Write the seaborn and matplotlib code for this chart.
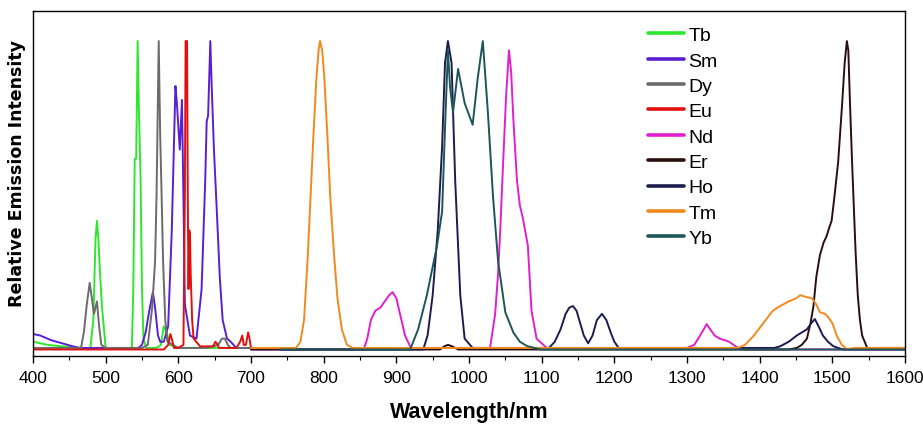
import pandas as pd
import matplotlib.pyplot as plt
from matplotlib.ticker import MultipleLocator
import seaborn as sns

# ---- emission spectra (wavelength nm, relative intensity) ----
tb_nm = [400, 420, 440, 465, 479, 483, 486, 488, 490, 492, 495, 500, 520, 536, 538, 540, 542, 544, 546, 548,
         550, 552, 556, 570, 576, 580, 584, 588, 600, 650, 700]
tb_int = [0.03, 0.02, 0.015, 0.01, 0.01, 0.10, 0.36, 0.42, 0.36, 0.26, 0.14, 0.01, 0.01, 0.01, 0.20, 0.62, 0.62,
          1.00, 0.75, 0.56, 0.20, 0.04, 0.01, 0.01, 0.02, 0.08, 0.06, 0.02, 0.01, 0.01, 0.01]

sm_nm = [400, 410, 425, 440, 455, 465, 480, 545, 550, 555, 560, 565, 568, 572, 575, 580, 586, 591, 596, 598,
         602, 605, 607, 609, 616, 625, 632, 637, 639, 641, 644, 646, 649, 653, 657, 661, 667, 672, 680, 700]
sm_int = [0.055, 0.05, 0.035, 0.025, 0.015, 0.01, 0.01, 0.01, 0.02, 0.06, 0.13, 0.19, 0.14, 0.05, 0.03, 0.03,
          0.08, 0.39, 0.855, 0.80, 0.65, 0.81, 0.50, 0.15, 0.05, 0.04, 0.20, 0.55, 0.74, 0.76, 1.00, 0.85, 0.65,
          0.45, 0.24, 0.10, 0.04, 0.03, 0.01, 0.01]

dy_nm = [400, 440, 466, 470, 474, 478, 481, 484, 488, 491, 494, 500, 550, 558, 564, 568, 570, 573, 575, 577,
         579, 582, 585, 600, 640, 655, 660, 664, 668, 672, 700]
dy_int = [0.01, 0.01, 0.01, 0.06, 0.15, 0.22, 0.17, 0.12, 0.16, 0.08, 0.02, 0.01, 0.01, 0.02, 0.14, 0.29, 0.50,
          1.00, 0.70, 0.50, 0.29, 0.10, 0.03, 0.01, 0.01, 0.02, 0.04, 0.04, 0.02, 0.01, 0.01]

eu_nm = [400, 580, 586, 589, 591, 594, 600, 607, 609, 610, 612, 613, 614, 615, 616, 617, 619, 621, 630, 648,
         651, 653, 656, 680, 685, 688, 690, 693, 696, 698, 700]
eu_int = [0.005, 0.005, 0.02, 0.055, 0.04, 0.01, 0.01, 0.02, 0.5, 1.0, 1.0, 0.5, 0.2, 0.39, 0.38, 0.25, 0.1,
          0.04, 0.015, 0.015, 0.03, 0.025, 0.01, 0.01, 0.03, 0.05, 0.02, 0.02, 0.06, 0.04, 0.01]

nd_nm = [700, 855, 860, 865, 871, 878, 884, 890, 895, 900, 905, 912, 920, 1029, 1036, 1040, 1043, 1047, 1051,
         1055, 1058, 1061, 1066, 1070, 1074, 1081, 1086, 1093, 1107, 1300, 1310, 1318, 1323, 1327, 1332, 1338,
         1345, 1352, 1358, 1364, 1370, 1378, 1600]
nd_int = [0.005, 0.005, 0.04, 0.10, 0.13, 0.14, 0.16, 0.18, 0.19, 0.17, 0.12, 0.05, 0.01, 0.01, 0.12, 0.25,
          0.39, 0.61, 0.82, 0.97, 0.90, 0.75, 0.55, 0.47, 0.43, 0.34, 0.13, 0.04, 0.01, 0.01, 0.02, 0.05, 0.07,
          0.087, 0.07, 0.05, 0.04, 0.035, 0.03, 0.02, 0.01, 0.005, 0.005]

er_nm = [700, 960, 966, 971, 977, 985, 1440, 1451, 1458, 1465, 1470, 1474, 1478, 1483, 1488, 1492, 1496, 1499,
         1503, 1508, 1513, 1517, 1520, 1522, 1524, 1527, 1529, 1532, 1535, 1538, 1541, 1548, 1600]
er_int = [0.005, 0.005, 0.015, 0.02, 0.015, 0.005, 0.005, 0.01, 0.02, 0.04, 0.09, 0.145, 0.24, 0.31, 0.35,
          0.37, 0.40, 0.42, 0.50, 0.61, 0.78, 0.93, 1.00, 0.97, 0.82, 0.62, 0.50, 0.32, 0.18, 0.10, 0.05, 0.01,
          0.01]

ho_nm = [740, 937, 943, 950, 957, 963, 967, 971, 976, 981, 988, 994, 1005, 1110, 1118, 1126, 1133, 1138, 1143,
         1148, 1153, 1158, 1164, 1170, 1176, 1183, 1189, 1195, 1200, 1206, 1420, 1428, 1440, 1451, 1458, 1465,
         1471, 1476, 1481, 1487, 1494, 1501, 1508, 1515, 1525, 1600]
ho_int = [0.005, 0.005, 0.05, 0.18, 0.39, 0.66, 0.93, 1.00, 0.93, 0.55, 0.18, 0.04, 0.01, 0.01, 0.03, 0.07,
          0.12, 0.14, 0.145, 0.13, 0.09, 0.05, 0.025, 0.05, 0.10, 0.12, 0.10, 0.06, 0.03, 0.01, 0.01, 0.015,
          0.03, 0.05, 0.06, 0.07, 0.09, 0.103, 0.08, 0.05, 0.03, 0.016, 0.01, 0.005, 0.005, 0.005]

tm_nm = [700, 740, 762, 768, 773, 778, 782, 786, 790, 793, 795, 798, 801, 805, 809, 814, 819, 825, 832, 840,
         1370, 1380, 1392, 1405, 1418, 1428, 1440, 1450, 1456, 1463, 1472, 1478, 1483, 1490, 1494, 1500, 1506,
         1513, 1520, 1530, 1600]
tm_int = [0.01, 0.01, 0.01, 0.03, 0.10, 0.30, 0.50, 0.70, 0.88, 0.97, 1.00, 0.97, 0.88, 0.70, 0.50, 0.32,
          0.17, 0.07, 0.02, 0.01, 0.01, 0.02, 0.05, 0.09, 0.13, 0.145, 0.16, 0.17, 0.18, 0.175, 0.17, 0.15,
          0.125, 0.12, 0.11, 0.09, 0.05, 0.02, 0.006, 0.01, 0.01]

yb_nm = [740, 919, 930, 942, 956, 963, 967, 971, 974, 978, 985, 994, 1005, 1012, 1019, 1026, 1033, 1040, 1050,
         1061, 1070, 1080, 1098, 1600]
yb_int = [0.005, 0.005, 0.07, 0.18, 0.34, 0.45, 0.72, 0.97, 0.85, 0.77, 0.91, 0.80, 0.73, 0.88, 1.00, 0.77,
          0.50, 0.29, 0.125, 0.06, 0.03, 0.016, 0.005, 0.005]

ions = ["Tb", "Sm", "Dy", "Eu", "Nd", "Er", "Ho", "Tm", "Yb"]
spectra = {
    "Tb": (tb_nm, tb_int), "Sm": (sm_nm, sm_int), "Dy": (dy_nm, dy_int),
    "Eu": (eu_nm, eu_int), "Nd": (nd_nm, nd_int), "Er": (er_nm, er_int),
    "Ho": (ho_nm, ho_int), "Tm": (tm_nm, tm_int), "Yb": (yb_nm, yb_int),
}
colors = {
    "Tb": "#2ee62e", "Sm": "#5a1fd0", "Dy": "#6b6b6b", "Eu": "#e01010", "Nd": "#e020d0",
    "Er": "#2b0f0f", "Ho": "#1c1c50", "Tm": "#f08a1e", "Yb": "#1d5656",
}

frames = []
for ion in ions:
    nm, inten = spectra[ion]
    frames.append(pd.DataFrame({"nm": nm, "intensity": inten, "ion": ion}))
df = pd.concat(frames, ignore_index=True)

# ---- plot ----
sns.set_style("white")
plt.rcParams["font.family"] = ["Liberation Sans", "DejaVu Sans"]
plt.rcParams["text.color"] = "black"
plt.rcParams["axes.labelcolor"] = "black"
plt.rcParams["xtick.color"] = "black"

fig = plt.figure(figsize=(9.23, 4.27), dpi=100)
ax = fig.add_axes([33 / 923, 1 - 357 / 427, 872 / 923, 345 / 427])

sns.lineplot(data=df, x="nm", y="intensity", hue="ion", hue_order=ions, palette=colors,
             estimator=None, sort=False, lw=1.4, ax=ax)

ax.set_xlim(400, 1600)
ax.set_ylim(-0.016, 1.097)
ax.xaxis.set_major_locator(MultipleLocator(100))
ax.xaxis.set_minor_locator(MultipleLocator(50))
ax.set_yticks([])
ax.tick_params(axis="x", which="major", direction="out", length=5, width=1, labelsize=12.5, pad=5,
               bottom=True, colors="black")
ax.tick_params(axis="x", which="minor", direction="out", length=3, width=0.8, bottom=True, colors="black")
for s in ax.spines.values():
    s.set_color("black")
    s.set_linewidth(1.0)

ax.set_xlabel("Wavelength/nm", fontsize=15.5, fontweight="bold", va="top", color="black")
ax.xaxis.set_label_coords(0.5, -0.13)
ax.set_ylabel("Relative Emission Intensity", fontsize=12.5, fontweight="bold", family="DejaVu Sans",
              color="black")
ax.yaxis.set_label_coords(-0.008, 0.533)

leg = ax.legend(loc="upper left", bbox_to_anchor=(0.705, 0.955), frameon=False, fontsize=14,
                handlelength=1.85, handletextpad=0.25, labelspacing=0.40, borderpad=0, borderaxespad=0)
for h in leg.legend_handles:
    h.set_linewidth(2.6)
for t in leg.get_texts():
    t.set_color("black")

fig.savefig("out.png", dpi=100)
